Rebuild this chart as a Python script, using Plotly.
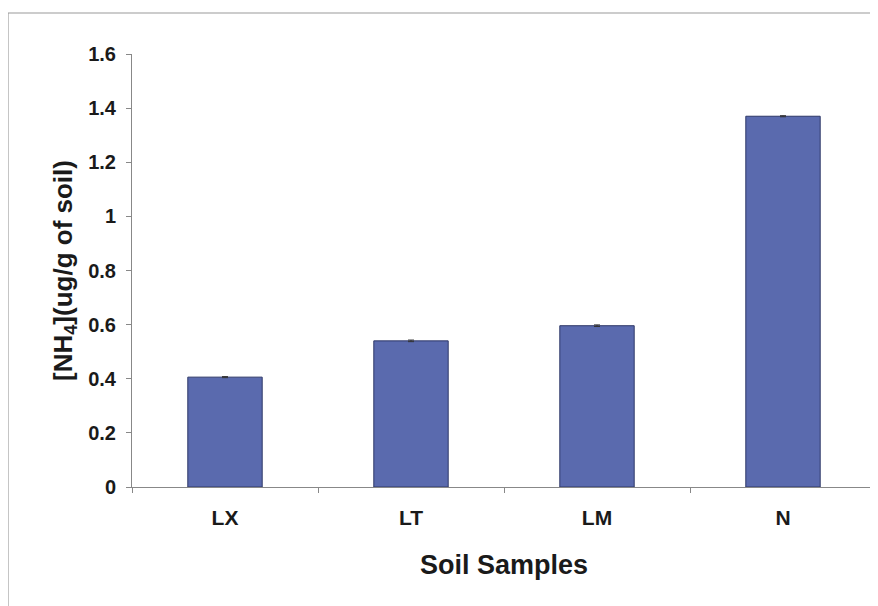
import plotly.graph_objects as go

categories = ["LX", "LT", "LM", "N"]
values = [0.406, 0.540, 0.596, 1.370]
errors = [0.002, 0.003, 0.003, 0.002]
y_ticks = [0, 0.2, 0.4, 0.6, 0.8, 1.0, 1.2, 1.4, 1.6]
y_tick_labels = ["0", "0.2", "0.4", "0.6", "0.8", "1", "1.2", "1.4", "1.6"]

FONT = "Liberation Sans, Arial, sans-serif"
INK = "#1a1a1a"
FRAME = dict(color="#9a9a9a", width=1.2)

fig = go.Figure(
    go.Bar(
        x=categories,
        y=values,
        marker=dict(color="#5a6aae", line=dict(color="#2e3868", width=1)),
        error_y=dict(type="data", array=errors, visible=True, color="#333", thickness=1, width=3),
    )
)

# page body has an 8px margin, so the figure is sized and offset to compensate
fig.update_layout(
    width=870,
    height=598,
    paper_bgcolor="white",
    plot_bgcolor="white",
    margin=dict(l=124, r=2, t=46, b=119),
    bargap=0.6,
    showlegend=False,
    font=dict(family=FONT, color=INK),
    shapes=[
        dict(type="line", xref="paper", yref="paper", x0=-0.1667, x1=1.01, y0=1.0947, y1=1.0947,
             line=FRAME, layer="below"),
        dict(type="line", xref="paper", yref="paper", x0=-0.1667, x1=-0.1667, y0=-0.3, y1=1.0947,
             line=FRAME, layer="below"),
    ],
)

fig.update_yaxes(
    range=[0, 1.6],
    tickvals=y_ticks,
    ticktext=y_tick_labels,
    ticks="outside",
    ticklen=5,
    tickcolor="#888",
    ticklabelstandoff=6,
    showline=True,
    linecolor="#888",
    linewidth=1,
    showgrid=False,
    zeroline=False,
    tickfont=dict(size=20, family=FONT, color=INK, weight="bold"),
    title=dict(text="[NH<sub>4</sub>](ug/g of soil)",
               font=dict(size=26, family=FONT, color=INK, weight="bold"),
               standoff=8),
)
fig.update_xaxes(
    ticks="outside",
    tickson="boundaries",
    ticklen=5,
    tickcolor="#888",
    ticklabelstandoff=12,
    showline=True,
    linecolor="#888",
    linewidth=1,
    showgrid=False,
    tickfont=dict(size=21, family=FONT, color=INK, weight="bold"),
    title=dict(text="Soil Samples",
               font=dict(size=27, family=FONT, color=INK, weight="bold"),
               standoff=26),
)

fig.write_html("out.html")
